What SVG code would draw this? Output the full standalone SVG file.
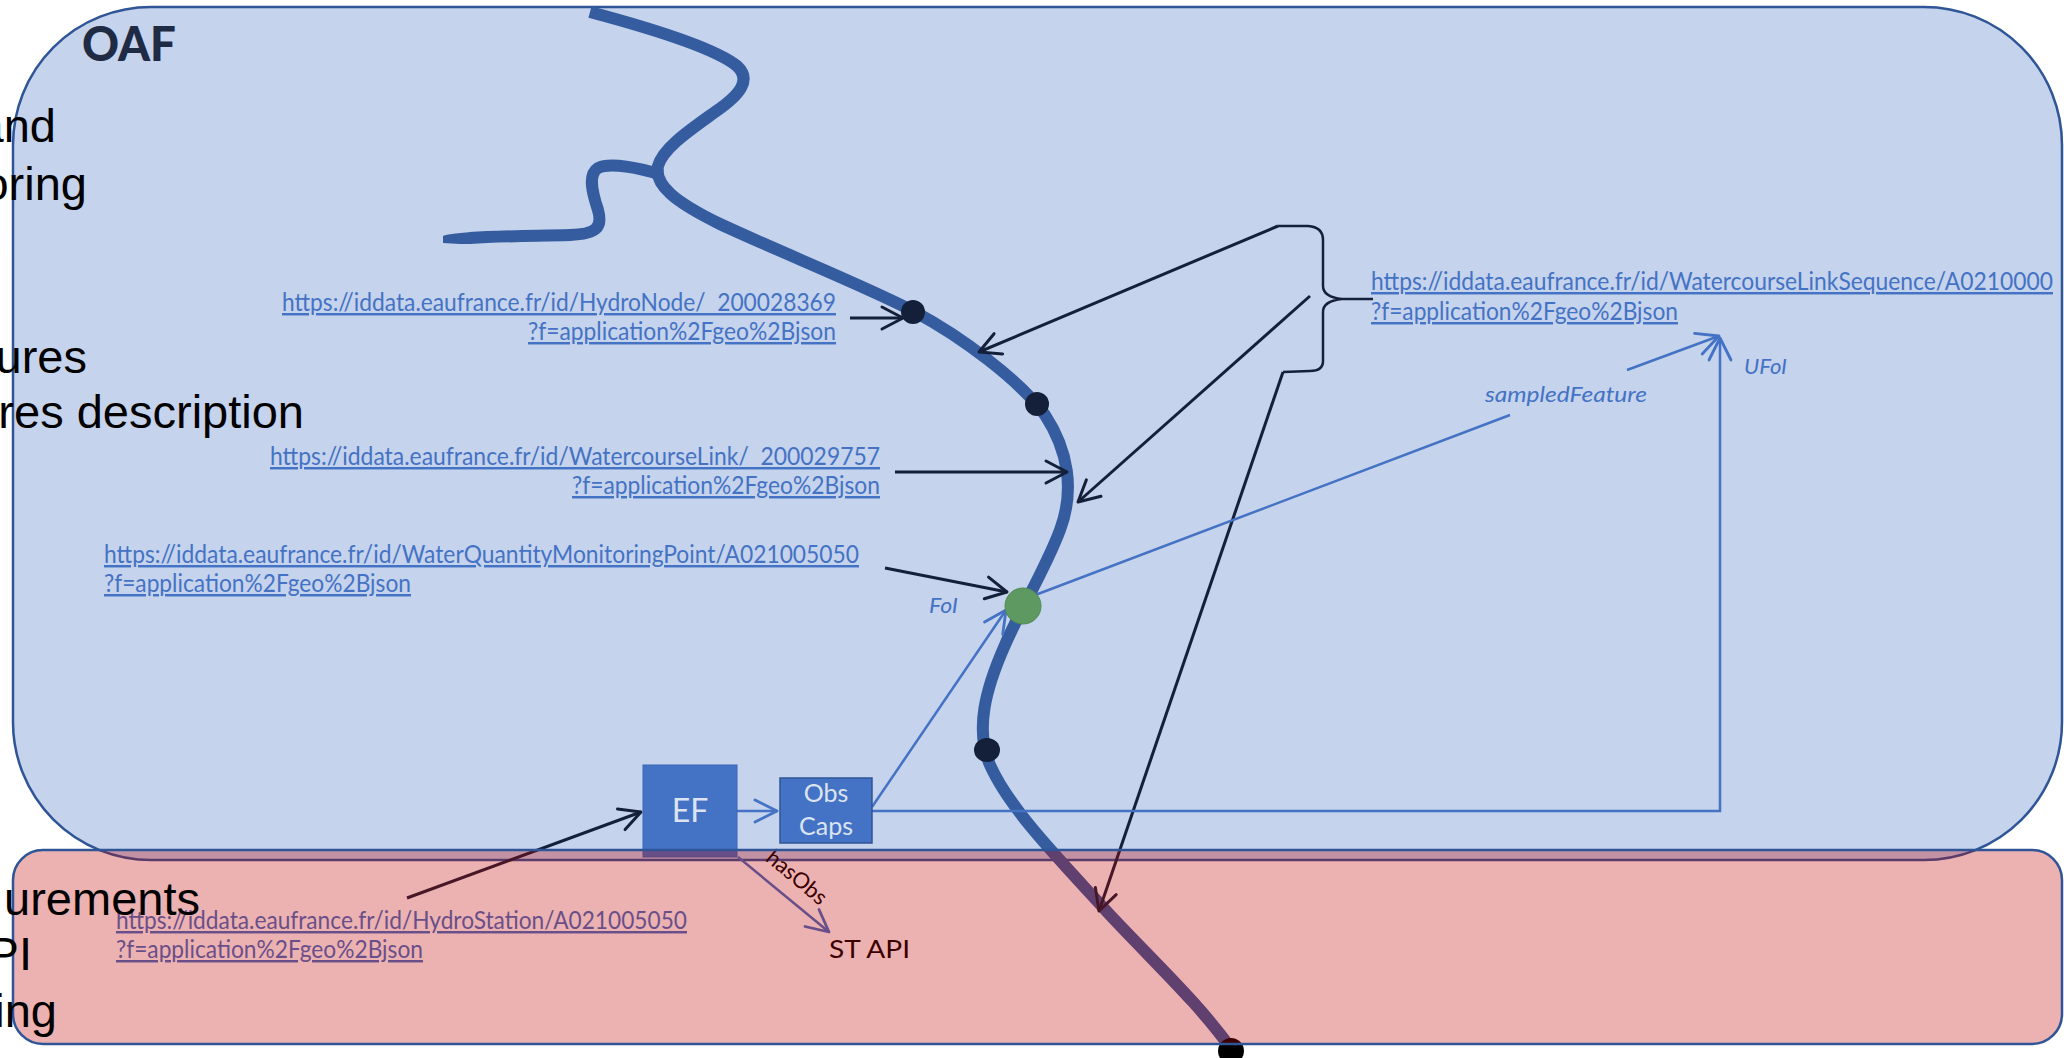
<svg xmlns="http://www.w3.org/2000/svg" width="2064" height="1058" viewBox="0 0 2064 1058">
<style>
.link{font-family:Lato,"Liberation Sans",sans-serif;font-size:24.5px;fill:#4472C4;text-decoration:underline;}
.lbl{font-family:Lato,"Liberation Sans",sans-serif;font-size:22px;font-style:italic;fill:#4472C4;}
.big{font-family:"Liberation Sans",Arial,sans-serif;font-size:47px;fill:#000;}
.dark{fill:none;stroke:#142039;stroke-width:3;}
.blue{fill:none;stroke:#4472C4;stroke-width:2.5;}
.dot{fill:#142039;}
.river{fill:none;stroke:#355C9F;stroke-width:12;stroke-linecap:butt;stroke-linejoin:round;}
.box{fill:#4472C4;stroke:#2F5597;stroke-width:1.5;}
.boxtxt{font-family:Lato,"Liberation Sans",sans-serif;fill:#DCE4F2;text-anchor:middle;}
</style>
<defs>
<marker id="ahDark" markerUnits="userSpaceOnUse" markerWidth="40" markerHeight="40" viewBox="-30 -20 40 40" refX="0" refY="0" orient="auto" overflow="visible">
<path d="M-21,-11 L0,0 L-21,11" fill="none" stroke="#142039" stroke-width="3" stroke-linecap="round" stroke-linejoin="round"/>
</marker>
<marker id="ahBlue" markerUnits="userSpaceOnUse" markerWidth="40" markerHeight="40" viewBox="-30 -20 40 40" refX="0" refY="0" orient="auto" overflow="visible">
<path d="M-22,-11 L0,0 L-22,11" fill="none" stroke="#4472C4" stroke-width="2.8" stroke-linecap="round" stroke-linejoin="round"/>
</marker>
</defs>

<g id="oaf-area">
<rect x="13" y="7" width="2049" height="853" rx="138" ry="138" fill="#C5D3EC" stroke="#2F5597" stroke-width="2.5"/>
<text x="82" y="61" font-family="Lato,'Liberation Sans',sans-serif" font-weight="900" font-size="47" fill="#1F2A44" textLength="94" lengthAdjust="spacingAndGlyphs">OAF</text>
</g>

<g id="hydro-node">
<text class="link" x="282" y="311" textLength="554" lengthAdjust="spacingAndGlyphs">https://iddata.eaufrance.fr/id/HydroNode/&#160; 200028369</text>
<text class="link" x="528" y="340" textLength="308" lengthAdjust="spacingAndGlyphs">?f=application%2Fgeo%2Bjson</text>
</g>
<g id="watercourse-link">
<text class="link" x="270" y="465" textLength="610" lengthAdjust="spacingAndGlyphs">https://iddata.eaufrance.fr/id/WatercourseLink/&#160; 200029757</text>
<text class="link" x="572" y="494" textLength="308" lengthAdjust="spacingAndGlyphs">?f=application%2Fgeo%2Bjson</text>
</g>
<g id="monitoring-point">
<text class="link" x="104" y="563" textLength="755" lengthAdjust="spacingAndGlyphs">https://iddata.eaufrance.fr/id/WaterQuantityMonitoringPoint/A021005050</text>
<text class="link" x="104" y="592" textLength="307" lengthAdjust="spacingAndGlyphs">?f=application%2Fgeo%2Bjson</text>
</g>
<g id="hydro-station">
<text class="link" x="116" y="929" textLength="571" lengthAdjust="spacingAndGlyphs">https://iddata.eaufrance.fr/id/HydroStation/A021005050</text>
<text class="link" x="116" y="958" textLength="307" lengthAdjust="spacingAndGlyphs">?f=application%2Fgeo%2Bjson</text>
</g>
<g id="link-sequence">
<text class="link" x="1371" y="290" textLength="682" lengthAdjust="spacingAndGlyphs">https://iddata.eaufrance.fr/id/WatercourseLinkSequence/A0210000</text>
<text class="link" x="1371" y="320" textLength="307" lengthAdjust="spacingAndGlyphs">?f=application%2Fgeo%2Bjson</text>
<path d="M1278,226 L1308,226 Q1323,227 1323,240 L1323,286 Q1323,297 1342,299 L1373,299 M1342,299 Q1323,301 1323,312 L1323,361 Q1323,371 1310,371 L1283,372" fill="none" stroke="#142039" stroke-width="2.5"/>
</g>

<g id="river">
<path class="river" d="M590,12 C650,28 715,48 737,66 C752,80 740,95 715,112 C690,130 663,148 658,166 C654,185 675,202 720,224 C780,252 870,288 915,312 C960,336 1020,380 1045,415 C1068,450 1075,490 1060,530 C1045,570 1020,610 1005,645 C985,690 975,730 990,765 C1010,810 1060,860 1110,915 C1160,968 1200,1005 1232,1050"/>
<path class="river" d="M662,175 C640,168 610,162 598,168 C587,175 593,195 598,210 C603,228 596,234 570,235 C530,236 500,236 470,238"/>
<path d="M472,232 C455,233 445,235 443,236 L443,243 C455,244 465,244 472,244 Z" fill="#355C9F"/>
</g>

<g id="connectors">
<line class="dark" x1="850" y1="318" x2="903" y2="318" marker-end="url(#ahDark)"/>
<line class="dark" x1="895" y1="472" x2="1067" y2="472" marker-end="url(#ahDark)"/>
<line class="dark" x1="885" y1="568" x2="1007" y2="592" marker-end="url(#ahDark)"/>
<line class="dark" x1="1278" y1="226" x2="979" y2="352" stroke-width="2.5" marker-end="url(#ahDark)"/>
<line class="dark" x1="1310" y1="296" x2="1078" y2="502" stroke-width="2.5" marker-end="url(#ahDark)"/>
<line class="dark" x1="1283" y1="372" x2="1099" y2="911" stroke-width="2" marker-end="url(#ahDark)"/>
<line class="dark" x1="407" y1="898" x2="641" y2="812" marker-end="url(#ahDark)"/>
<line class="blue" x1="737" y1="811" x2="777" y2="811" marker-end="url(#ahBlue)"/>
<line class="blue" x1="872" y1="807" x2="1006" y2="610" marker-end="url(#ahBlue)"/>
<path class="blue" d="M872,811 H1720 V338" marker-end="url(#ahBlue)"/>
<path class="blue" d="M1030,597 L1510,415 M1627,370 L1719,336" marker-end="url(#ahBlue)"/>
<line class="blue" x1="738" y1="857" x2="829" y2="932" marker-end="url(#ahBlue)"/>
<text class="lbl" x="929" y="613" textLength="29" lengthAdjust="spacingAndGlyphs">FoI</text>
<text class="lbl" x="1485" y="402" textLength="162" lengthAdjust="spacingAndGlyphs">sampledFeature</text>
<text class="lbl" x="1744" y="374" textLength="43" lengthAdjust="spacingAndGlyphs">UFoI</text>
<text font-family="Lato,'Liberation Sans',sans-serif" font-size="22" fill="#000" text-anchor="middle" transform="translate(792,883) rotate(40)" y="0">hasObs</text>
</g>

<g id="river-points">
<circle class="dot" cx="913" cy="312" r="12"/>
<circle class="dot" cx="1037" cy="404" r="12"/>
<ellipse class="dot" cx="987" cy="750" rx="13" ry="12"/>
<circle cx="1231" cy="1051" r="13" fill="#000"/>
<circle cx="1023" cy="606" r="18" fill="#5F9962" stroke="#4F8A52" stroke-width="1"/>
</g>

<g id="ef">
<rect x="643" y="765" width="94" height="92" fill="#4472C4" stroke="#3A66B5" stroke-width="1"/>
<text class="boxtxt" x="690" y="822" font-size="32">EF</text>
</g>
<g id="obscaps">
<rect class="box" x="780" y="778" width="92" height="65"/>
<text class="boxtxt" x="826" y="802" font-size="25">Obs</text>
<text class="boxtxt" x="826" y="835" font-size="25">Caps</text>
</g>
<g id="st-api">
<text x="829" y="958" font-family="Lato,'Liberation Sans',sans-serif" font-size="25" fill="#000" textLength="81" lengthAdjust="spacingAndGlyphs">ST API</text>
</g>

<g id="obs-area">
<rect x="13" y="850" width="2049" height="194" rx="30" ry="30" fill="#C00000" fill-opacity="0.3" stroke="#2F5597" stroke-width="2.5"/>
</g>

<g id="slide-text">
<text class="big" x="56" y="142" text-anchor="end">and</text>
<text class="big" x="87" y="200" text-anchor="end">oring</text>
<text class="big" x="87" y="373" text-anchor="end">ures</text>
<text class="big" x="304" y="428" text-anchor="end">res description</text>
<text class="big" x="200" y="915" text-anchor="end">urements</text>
<text class="big" x="32" y="970" text-anchor="end">PI</text>
<text class="big" x="57" y="1027" text-anchor="end">ing</text>
</g>
</svg>
